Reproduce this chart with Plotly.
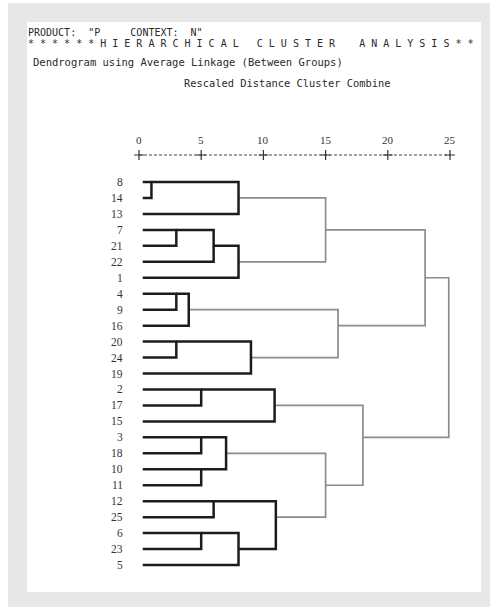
import plotly.graph_objects as go

# ---------------- data ----------------
leaves = ["8", "14", "13", "7", "21", "22", "1", "4", "9", "16", "20", "24", "19",
          "2", "17", "15", "3", "18", "10", "11", "12", "25", "6", "23", "5"]

merge_a = ["8", "C1", "7", "C3", "C4", "C2", "4", "C7", "20", "C9", "C8", "C6",
           "2", "C13", "3", "10", "C15", "12", "6", "C19", "C18", "C17", "C14", "C12"]
merge_b = ["14", "13", "21", "22", "1", "C5", "9", "16", "24", "19", "C10", "C11",
           "17", "15", "18", "11", "C16", "25", "23", "5", "C20", "C21", "C22", "C23"]
merge_dist = [1, 8, 3, 6, 8, 15, 3, 4, 3, 9, 16, 23,
              5, 10.9, 5, 5, 7, 6, 5, 8, 11, 15, 18, 24.9]

tick_vals = [0, 5, 10, 15, 20, 25]
tick_text = ["0", "5", "10", "15", "20", "25"]

# ---------------- layout constants ----------------
W, H = 490, 607
PX_PER_UNIT = 12.44
X0_PX = 139.0
ROW0_PX = 182.0
ROW_PX = 15.96
LEAF_START = 0.3
BLACK_LIMIT = 12

x_lo = -X0_PX / PX_PER_UNIT
x_hi = x_lo + W / PX_PER_UNIT
y_top = -ROW0_PX / ROW_PX
y_bot = y_top + H / ROW_PX


def row_of_px(px):
    return (px - ROW0_PX) / ROW_PX


def x_of_px(px):
    return (px - X0_PX) / PX_PER_UNIT


# node positions
pos = {name: i for i, name in enumerate(leaves)}
hgt = {name: LEAF_START for name in leaves}

black_x, black_y, gray_x, gray_y = [], [], [], []
for i, (a, b, d) in enumerate(zip(merge_a, merge_b, merge_dist)):
    ra, rb = pos[a], pos[b]
    xs = [hgt[a], d, d, hgt[b], None]
    ys = [ra, ra, rb, rb, None]
    if d < BLACK_LIMIT:
        black_x += xs
        black_y += ys
    else:
        gray_x += xs
        gray_y += ys
    name = "C%d" % (i + 1)
    pos[name] = (ra + rb) // 2
    hgt[name] = d

fig = go.Figure()

fig.add_trace(go.Scatter(x=gray_x, y=gray_y, mode="lines",
                         line=dict(color="#8c8c8c", width=1.7),
                         hoverinfo="skip", showlegend=False))
fig.add_trace(go.Scatter(x=black_x, y=black_y, mode="lines",
                         line=dict(color="#1c1c1c", width=2.5),
                         hoverinfo="skip", showlegend=False))

# ruler
ruler_y = row_of_px(155)
fig.add_trace(go.Scatter(x=[tick_vals[0], tick_vals[-1]], y=[ruler_y, ruler_y],
                         mode="lines", line=dict(color="#444444", width=1, dash="3px,2px"),
                         hoverinfo="skip", showlegend=False))
fig.add_trace(go.Scatter(x=tick_vals, y=[ruler_y] * len(tick_vals), mode="markers",
                         marker=dict(symbol="cross-thin", size=7,
                                     line=dict(color="#333333", width=1.2)),
                         hoverinfo="skip", showlegend=False))

annotations = []
tick_y = row_of_px(140)
for v, t in zip(tick_vals, tick_text):
    annotations.append(dict(x=v, y=tick_y, xref="x", yref="y", text=t, showarrow=False,
                            xanchor="center", yanchor="middle",
                            font=dict(family="Liberation Serif", size=11, color="#333333")))

label_x = x_of_px(124)
for i, name in enumerate(leaves):
    annotations.append(dict(x=label_x, y=i, xref="x", yref="y", text=name, showarrow=False,
                            xanchor="right", yanchor="middle", borderpad=0,
                            font=dict(family="Liberation Serif", size=11.5, color="#333333")))

NB = "\u00a0"


def header(text, xpx, ypx, size):
    return dict(x=xpx / W, y=1 - ypx / H, xref="paper", yref="paper",
                text=text.replace(" ", NB), showarrow=False,
                xanchor="left", yanchor="middle", borderpad=0,
                font=dict(family="DejaVu Sans Mono", size=size, color="#2a2a2a"))


annotations.append(header('PRODUCT:  "P     CONTEXT:  N"', 27, 33, 10))
annotations.append(header("* * * * * * H I E R A R C H I C A L   C L U S T E R    A N A L Y S I S * *",
                          27, 43, 10))
annotations.append(header("Dendrogram using Average Linkage (Between Groups)", 32, 62, 10.5))
annotations.append(header("Rescaled Distance Cluster Combine", 183, 83, 10.4))

shapes = [
    dict(type="rect", xref="paper", yref="paper", x0=8 / W, x1=1, y0=0, y1=1 - 3 / H,
         fillcolor="#e6e7e6", line=dict(width=0), layer="below"),
    dict(type="rect", xref="paper", yref="paper", x0=27 / W, x1=481 / W,
         y0=1 - 592 / H, y1=1 - 22 / H,
         fillcolor="#ffffff", line=dict(width=0), layer="below"),
]

fig.update_layout(
    width=W, height=H,
    margin=dict(l=0, r=0, t=0, b=0),
    paper_bgcolor="#ffffff", plot_bgcolor="rgba(0,0,0,0)",
    xaxis=dict(range=[x_lo, x_hi], visible=False, fixedrange=True),
    yaxis=dict(range=[y_bot, y_top], visible=False, fixedrange=True),
    shapes=shapes, annotations=annotations, showlegend=False,
)

fig.write_html("out.html", config={"displayModeBar": False},
               post_script="document.body.style.margin='0';document.body.style.overflow='hidden';")
